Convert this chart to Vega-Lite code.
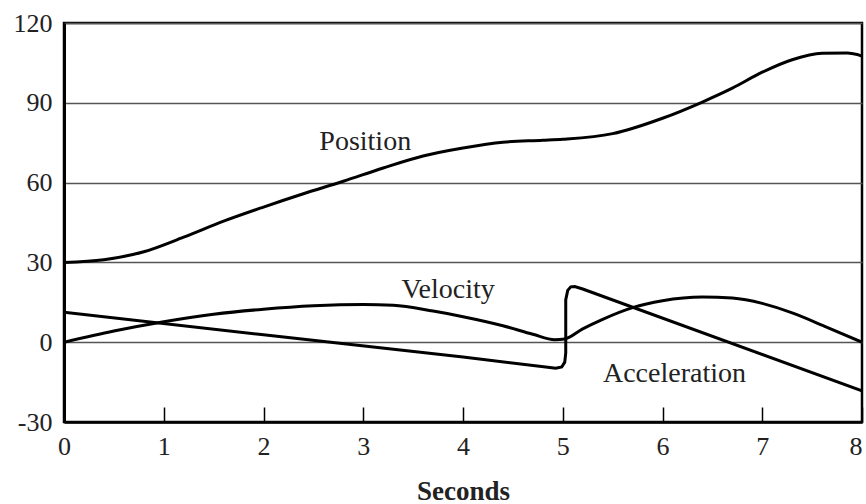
{
  "$schema": "https://vega.github.io/schema/vega-lite/v6.json",
  "autosize": "none",
  "width": 798,
  "height": 399,
  "padding": {"left": 64, "top": 23, "right": 4, "bottom": 82},
  "background": "white",
  "config": {
    "view": {"stroke": "black", "strokeWidth": 2.5},
    "font": "Liberation Serif",
    "axis": {"labelFont": "Liberation Serif", "titleFont": "Liberation Serif", "labelColor": "#222", "titleColor": "#222"}
  },
  "datasets": {
    "curves": [
      {"series": "Position", "i": 0, "t": 0, "v": 30},
      {"series": "Position", "i": 1, "t": 0.4, "v": 31},
      {"series": "Position", "i": 2, "t": 0.8, "v": 34},
      {"series": "Position", "i": 3, "t": 1.2, "v": 39.5},
      {"series": "Position", "i": 4, "t": 1.6, "v": 45.5},
      {"series": "Position", "i": 5, "t": 2.0, "v": 50.8},
      {"series": "Position", "i": 6, "t": 2.4, "v": 55.8},
      {"series": "Position", "i": 7, "t": 2.8, "v": 60.5},
      {"series": "Position", "i": 8, "t": 3.2, "v": 65.5},
      {"series": "Position", "i": 9, "t": 3.6, "v": 70},
      {"series": "Position", "i": 10, "t": 4.0, "v": 73},
      {"series": "Position", "i": 11, "t": 4.4, "v": 75.2},
      {"series": "Position", "i": 12, "t": 4.8, "v": 75.9},
      {"series": "Position", "i": 13, "t": 5.0, "v": 76.3},
      {"series": "Position", "i": 14, "t": 5.5, "v": 78.4},
      {"series": "Position", "i": 15, "t": 6.0, "v": 84.2},
      {"series": "Position", "i": 16, "t": 6.4, "v": 90.3},
      {"series": "Position", "i": 17, "t": 6.7, "v": 95.5},
      {"series": "Position", "i": 18, "t": 7.0, "v": 101.5},
      {"series": "Position", "i": 19, "t": 7.3, "v": 106.2},
      {"series": "Position", "i": 20, "t": 7.6, "v": 108.6},
      {"series": "Position", "i": 21, "t": 7.85, "v": 108.7},
      {"series": "Position", "i": 22, "t": 8.0, "v": 107.6},
      {"series": "Velocity", "i": 0, "t": 0, "v": 0},
      {"series": "Velocity", "i": 1, "t": 0.5, "v": 4.2},
      {"series": "Velocity", "i": 2, "t": 1.0, "v": 7.7},
      {"series": "Velocity", "i": 3, "t": 1.5, "v": 10.5},
      {"series": "Velocity", "i": 4, "t": 2.0, "v": 12.4},
      {"series": "Velocity", "i": 5, "t": 2.5, "v": 13.7},
      {"series": "Velocity", "i": 6, "t": 3.0, "v": 14.2},
      {"series": "Velocity", "i": 7, "t": 3.3, "v": 13.9},
      {"series": "Velocity", "i": 8, "t": 3.7, "v": 11.7},
      {"series": "Velocity", "i": 9, "t": 4.0, "v": 9.6},
      {"series": "Velocity", "i": 10, "t": 4.4, "v": 6.2},
      {"series": "Velocity", "i": 11, "t": 4.7, "v": 3},
      {"series": "Velocity", "i": 12, "t": 4.92, "v": 0.9},
      {"series": "Velocity", "i": 13, "t": 5.02, "v": 1.2},
      {"series": "Velocity", "i": 14, "t": 5.2, "v": 5},
      {"series": "Velocity", "i": 15, "t": 5.4, "v": 8.6},
      {"series": "Velocity", "i": 16, "t": 5.7, "v": 13},
      {"series": "Velocity", "i": 17, "t": 6.0, "v": 15.6},
      {"series": "Velocity", "i": 18, "t": 6.4, "v": 17},
      {"series": "Velocity", "i": 19, "t": 6.7, "v": 16.6},
      {"series": "Velocity", "i": 20, "t": 7.0, "v": 14.6},
      {"series": "Velocity", "i": 21, "t": 7.3, "v": 11},
      {"series": "Velocity", "i": 22, "t": 7.65, "v": 5.6},
      {"series": "Velocity", "i": 23, "t": 8.0, "v": 0},
      {"series": "Acceleration", "i": 0, "t": 0, "v": 11.3},
      {"series": "Acceleration", "i": 1, "t": 2.0, "v": 2.8},
      {"series": "Acceleration", "i": 2, "t": 4.0, "v": -5.6},
      {"series": "Acceleration", "i": 3, "t": 4.85, "v": -9.4},
      {"series": "Acceleration", "i": 4, "t": 4.93, "v": -9.8},
      {"series": "Acceleration", "i": 5, "t": 4.99, "v": -9.3},
      {"series": "Acceleration", "i": 6, "t": 5.02, "v": -7.5},
      {"series": "Acceleration", "i": 7, "t": 5.03, "v": -4},
      {"series": "Acceleration", "i": 8, "t": 5.03, "v": 16},
      {"series": "Acceleration", "i": 9, "t": 5.05, "v": 19.5},
      {"series": "Acceleration", "i": 10, "t": 5.08, "v": 20.8},
      {"series": "Acceleration", "i": 11, "t": 5.12, "v": 20.9},
      {"series": "Acceleration", "i": 12, "t": 5.2, "v": 20},
      {"series": "Acceleration", "i": 13, "t": 8.0, "v": -18.3}
    ],
    "labels": [
      {"name": "Position", "t": 3.02, "v": 75.4},
      {"name": "Velocity", "t": 3.85, "v": 19.8},
      {"name": "Acceleration", "t": 6.12, "v": -11.9}
    ]
  },
  "layer": [
    {
      "data": {"name": "curves"},
      "transform": [{"filter": "datum.series != 'Acceleration'"}],
      "mark": {"type": "line", "color": "black", "strokeWidth": 3, "clip": true, "interpolate": "monotone"},
      "encoding": {
        "x": {
          "field": "t", "type": "quantitative",
          "scale": {"domain": [0, 8], "nice": false},
          "axis": {
            "values": [0, 1, 2, 3, 4, 5, 6, 7, 8],
            "labelExpr": "'' + datum.value",
            "grid": false,
            "domainColor": "black", "domainWidth": 2.5,
            "tickColor": "black", "tickWidth": 1.5, "tickSize": -15,
            "labelFontSize": 26, "labelPadding": 26,
            "labelAlign": {"condition": {"test": "datum.value == 8", "value": "right"}, "value": "center"},
            "labelFlush": false, "labelOverlap": false,
            "title": "Seconds", "titleFontSize": 27, "titleFontWeight": "bold",
            "titleBaseline": "alphabetic", "titleY": 77
          }
        },
        "y": {
          "field": "v", "type": "quantitative",
          "scale": {"domain": [-30, 120], "nice": false},
          "axis": {
            "values": [-30, 0, 30, 60, 90, 120],
            "labelExpr": "'' + datum.value",
            "grid": true, "gridColor": "#555", "gridWidth": 1.5,
            "domainColor": "black", "domainWidth": 3,
            "ticks": false,
            "labelFontSize": 26, "labelPadding": 12,
            "labelFlush": false, "labelOverlap": false,
            "title": null
          }
        },
        "detail": {"field": "series"}
      }
    },
    {
      "data": {"name": "curves"},
      "transform": [{"filter": "datum.series == 'Acceleration'"}],
      "mark": {"type": "line", "color": "black", "strokeWidth": 3, "clip": true},
      "encoding": {
        "x": {"field": "t", "type": "quantitative"},
        "y": {"field": "v", "type": "quantitative"},
        "order": {"field": "i", "type": "quantitative"}
      }
    },
    {
      "data": {"name": "labels"},
      "mark": {"type": "text", "font": "Liberation Serif", "fontSize": 28, "color": "#222", "align": "center", "baseline": "middle"},
      "encoding": {
        "x": {"field": "t", "type": "quantitative"},
        "y": {"field": "v", "type": "quantitative"},
        "text": {"field": "name"}
      }
    }
  ]
}
